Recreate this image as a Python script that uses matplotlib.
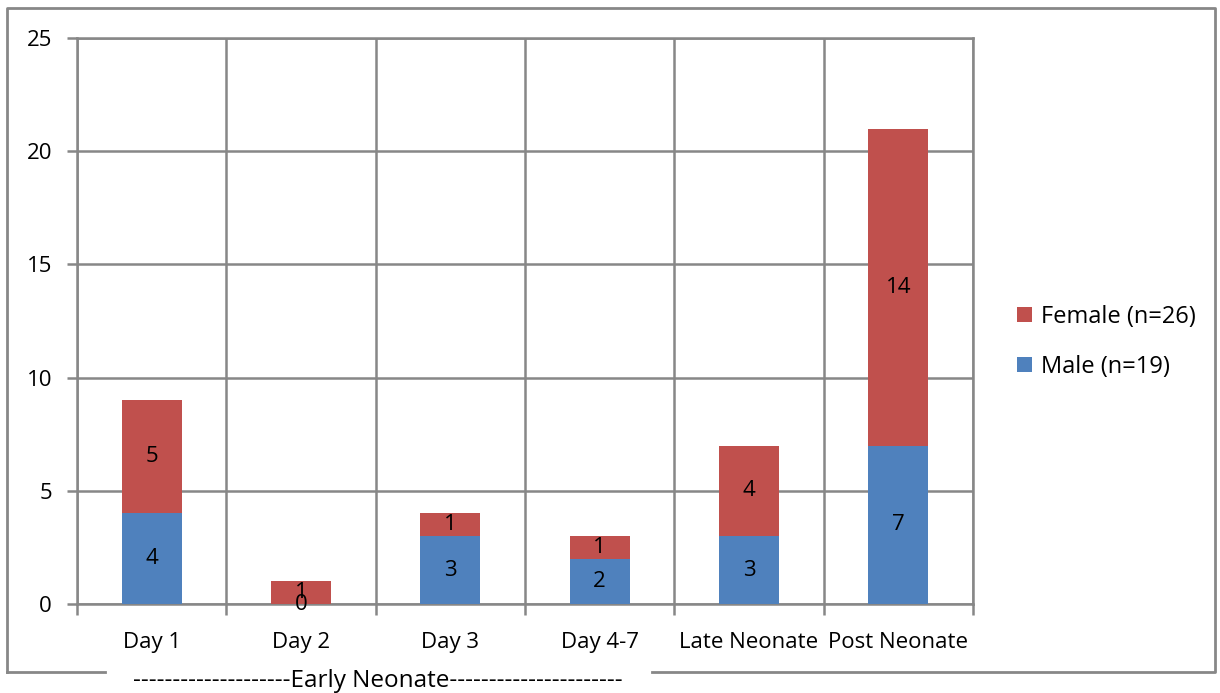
import matplotlib
matplotlib.use("Agg")
import matplotlib.pyplot as plt
from matplotlib.lines import Line2D
from matplotlib.patches import Patch
import numpy as np

categories = ["Day 1", "Day 2", "Day 3", "Day 4-7", "Late Neonate", "Post Neonate"]
male = [4, 0, 3, 2, 3, 7]
female = [5, 1, 1, 1, 4, 14]
male_label = "Male (n=19)"
female_label = "Female (n=26)"
group_label = "--------------------Early Neonate----------------------"

BLUE = "#4F81BD"
RED = "#C0504D"
GRID = "#878787"
FS = 16

plt.rcParams["font.family"] = ["Open Sans", "DejaVu Sans"]

W, H = 1220, 693
fig = plt.figure(figsize=(W / 100, H / 100), dpi=100)

def fx(px):
    return px / W

def fy(py):
    return 1 - py / H

ax = fig.add_axes([fx(77), fy(604), fx(973) - fx(77), fy(38) - fy(604)])

x = np.arange(len(categories))
ax.bar(x, male, width=0.4, color=BLUE, zorder=3)
ax.bar(x, female, width=0.4, bottom=male, color=RED, zorder=3)

for xi, m, f in zip(x, male, female):
    ax.text(xi, m / 2, str(m), ha="center", va="center", fontsize=FS, zorder=4)
    ax.text(xi, m + f / 2, str(f), ha="center", va="center", fontsize=FS, zorder=4)

ax.set_xlim(-0.5, len(categories) - 0.5)
ax.set_ylim(0, 25)
ax.set_yticks([0, 5, 10, 15, 20, 25])
ax.tick_params(axis="y", length=7, width=1.8, color=GRID, pad=11, labelsize=FS)

ax.set_xticks(x)
ax.set_xticklabels(categories)
ax.set_xticks(np.arange(-0.5, len(categories)), minor=True)
ax.tick_params(axis="x", which="major", length=0, pad=20, labelsize=FS)
ax.tick_params(axis="x", which="minor", length=8, width=1.8, color=GRID)

ax.grid(axis="y", color=GRID, linewidth=1.8, zorder=0)
ax.grid(axis="x", which="minor", color=GRID, linewidth=1.8, zorder=0)
ax.set_axisbelow(True)
for sp in ax.spines.values():
    sp.set_color(GRID)
    sp.set_linewidth(1.8)

# legend
handles = [Patch(facecolor=RED, label=female_label), Patch(facecolor=BLUE, label=male_label)]
fig.legend(handles=handles, loc="center left", bbox_to_anchor=(fx(996), fy(342)),
           frameon=False, fontsize=17, handlelength=0.62, handleheight=0.62,
           handletextpad=0.4, labelspacing=1.1)

# outer frame with a break for the group label
frame_kw = dict(color=GRID, linewidth=2, transform=fig.transFigure)
fig.add_artist(Line2D([fx(7), fx(7), fx(1215), fx(1215), fx(652)],
                      [fy(672), fy(8), fy(8), fy(672), fy(672)], **frame_kw))
fig.add_artist(Line2D([fx(7), fx(105)], [fy(672), fy(672)], **frame_kw))

fig.text(fx(378), fy(681), group_label, ha="center", va="center", fontsize=17.5)

fig.savefig("out.png", dpi=100)
